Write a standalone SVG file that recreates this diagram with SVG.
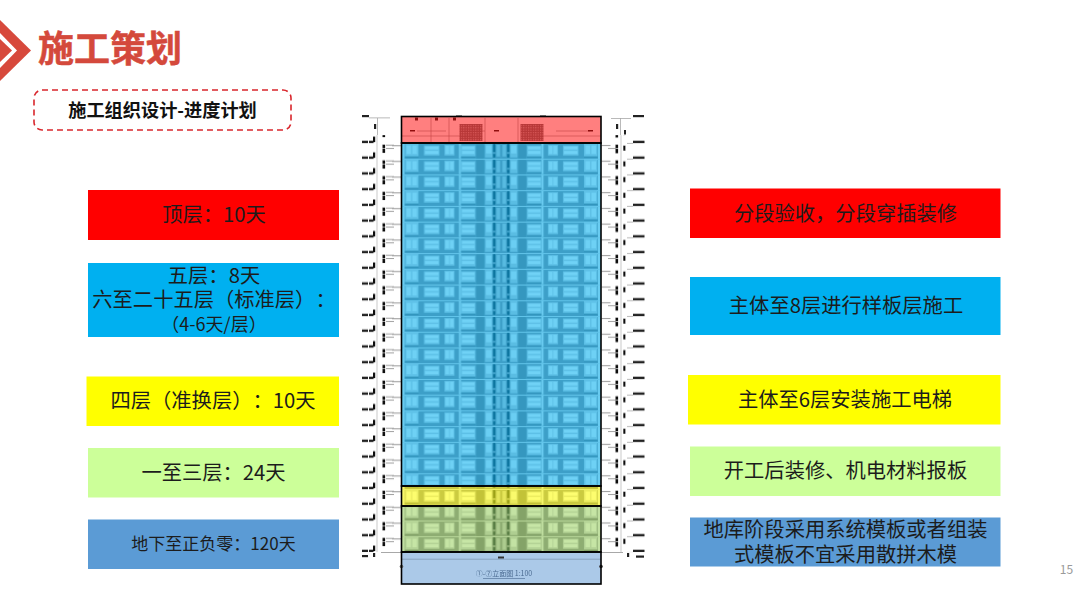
<svg xmlns="http://www.w3.org/2000/svg" xmlns:xlink="http://www.w3.org/1999/xlink" width="1080" height="608" viewBox="0 0 1080 608">
<style>
text{font-family:"Noto Sans CJK SC","Noto Sans",sans-serif;text-anchor:middle;fill:#1c1c1c;font-feature-settings:"chws" 0,"palt" 0;text-spacing-trim:space-all}
.t20{font-size:20.3px}
.frame{fill:none;stroke:#000;stroke-width:1.6}
.tick{fill:#a8a8a8}
.blk{fill:#222}
</style>
<defs>
<filter id="soft" x="-5%" y="-5%" width="110%" height="110%"><feGaussianBlur stdDeviation="0.4"/></filter>
<g id="half">
<rect x="0" y="0" width="3" height="15.73" fill="#f0f0f2"/>
<rect x="3.5" y="1" width="13.5" height="12.5" fill="#d4d4da"/>
<rect x="5" y="2.5" width="4.5" height="8.5" fill="#fafafa"/>
<rect x="11" y="2.5" width="4.5" height="8.5" fill="#fafafa"/>
<rect x="22.5" y="2.5" width="15.5" height="10" fill="#d4d4da"/>
<rect x="23.5" y="3.5" width="13.5" height="3" fill="#fcfcfc"/>
<rect x="23.5" y="8" width="13.5" height="3" fill="#fcfcfc"/>
<rect x="43" y="2" width="10" height="10.5" fill="#d4d4da"/>
<rect x="44" y="3" width="3.6" height="8" fill="#fafafa"/>
<rect x="48.5" y="3" width="3.6" height="8" fill="#fafafa"/>
<rect x="57.5" y="0.5" width="2" height="15" fill="#f0f0f2"/>
<rect x="59.5" y="2.5" width="14.5" height="11" fill="#d4d4da"/>
<rect x="60.5" y="3.5" width="12.5" height="3" fill="#fcfcfc"/>
<rect x="60.5" y="8" width="12.5" height="3" fill="#fcfcfc"/>
<rect x="75" y="0" width="7.5" height="15.73" fill="#77777f"/>
<rect x="83.5" y="1" width="7.5" height="13.5" fill="#ccccd2"/>
<rect x="84.5" y="2.5" width="5.5" height="8" fill="#f4f4f6"/>
<rect x="91.5" y="1" width="2.4" height="8" fill="#1f2a38"/>
<rect x="91.5" y="11" width="2.4" height="3.5" fill="#1f2a38"/>
<rect x="95" y="2" width="3.5" height="11.5" fill="#c8c8ce"/>
<rect x="0" y="0" width="100" height="1" fill="#e0e0e4"/>
<rect x="3.5" y="13.5" width="13.500" height="1.2" fill="#70707a"/>
<rect x="59.5" y="13.5" width="14.5" height="1.2" fill="#70707a"/>
</g>
<pattern id="floors" patternUnits="userSpaceOnUse" x="401.5" y="143" width="199.5" height="15.73">
<rect width="199.5" height="15.73" fill="#8a8a95"/>
<use xlink:href="#half" href="#half"/>
<use xlink:href="#half" href="#half" transform="matrix(-1 0 0 1 199.5 0)"/>
</pattern>
<pattern id="dimL" patternUnits="userSpaceOnUse" x="360" y="135.14" width="42" height="15.73">
<rect x="2" y="5.6" width="6" height="2.4" fill="#222"/>
<rect x="9" y="5.6" width="4.5" height="2.4" fill="#222"/>
<rect x="13" y="1.5" width="2.2" height="5.5" fill="#111"/>
<rect x="22.5" y="9.5" width="2.6" height="3.4" fill="#111"/>
<rect x="22.5" y="13.5" width="2.6" height="2.2" fill="#111"/>
<rect x="22.5" y="0" width="2.6" height="2" fill="#111"/>
<rect x="16.6" y="0" width="0.8" height="15.73" fill="#bcbcbc"/>
<rect x="26" y="9.6" width="8" height="0.8" fill="#888"/>
<rect x="26" y="13" width="8" height="0.8" fill="#888"/>
<rect x="32" y="10" width="9.5" height="1.1" fill="#a0a0a0"/>
</pattern>
<pattern id="dimR" patternUnits="userSpaceOnUse" x="601" y="135.14" width="44" height="15.73">
<rect x="0.5" y="9.8" width="9" height="1.1" fill="#a0a0a0"/>
<rect x="14.5" y="9.5" width="2.6" height="3.6" fill="#111"/>
<rect x="14.5" y="13.8" width="2.6" height="1.93" fill="#111"/>
<rect x="14.5" y="0" width="2.6" height="2.4" fill="#111"/>
<rect x="7" y="13" width="8" height="0.8" fill="#888"/>
<rect x="22.3" y="10.5" width="2.1" height="5" fill="#111"/>
<rect x="19.6" y="0" width="0.8" height="15.73" fill="#bcbcbc"/>
<rect x="32" y="5.6" width="11.5" height="2.4" fill="#222"/>
<rect x="26" y="7.8" width="6" height="0.7" fill="#999"/>
</pattern>
<pattern id="grid" patternUnits="userSpaceOnUse" width="2.4" height="2.4">
<rect width="2.4" height="2.4" fill="#6e6e6e"/>
<rect width="1.2" height="1.2" fill="#b4b4b4"/>
</pattern>
</defs>
<rect width="1080" height="608" fill="#fff"/>

<g id="header">
<polygon points="0,20 31,50.5 0,81" fill="#d7493c"/>
<polygon points="0,33 17,50.5 0,68" fill="#fff"/>
<polygon points="0,39 12,50.5 0,62" fill="#d7493c"/>
<text x="110" y="61.5" style="font-size:36px;font-weight:700;fill:#d4493c;stroke:#d4493c;stroke-width:.5">施工策划</text>
</g>
<g id="subtitle">
<rect x="34" y="90" width="257" height="40" rx="8" fill="#fff" stroke="#d9262c" stroke-width="1.6" stroke-dasharray="6 4"/>
<text x="162.500" y="117" style="font-size:18.2px;font-weight:700;fill:#111">施工组织设计-进度计划</text>
</g>

<g id="left-top"><rect x="88" y="190" width="251" height="50" fill="#f00"/><text class="t20" x="214" y="222">顶层：10天</text></g>
<g id="left-standard"><rect x="88" y="263" width="251" height="74" fill="#00b0f0"/>
<text class="t20" x="214" y="283">五层：8天</text>
<text class="t20" x="214" y="307">六至二十五层（标准层）：</text>
<text x="214" y="331" style="font-size:18px">（4-6天/层）</text></g>
<g id="left-transfer"><rect x="86.5" y="376.5" width="252.5" height="49.5" fill="#ff0"/><text class="t20" x="213" y="408">四层（准换层）：10天</text></g>
<g id="left-lower"><rect x="88" y="448" width="251" height="49.5" fill="#ccff99"/><text class="t20" x="213.500" y="480">一至三层：24天</text></g>
<g id="left-basement"><rect x="88" y="519.5" width="251" height="49.5" fill="#5b9bd5"/><text x="213.500" y="550" style="font-size:17px">地下至正负零：120天</text></g>

<g id="building">
<g filter="url(#soft)">
<rect x="360" y="135.14" width="42" height="417" fill="url(#dimL)"/>
<rect x="601" y="135.14" width="44" height="417" fill="url(#dimR)"/>
<rect class="blk" x="362" y="115" width="7" height="2.2"/>
<rect class="tick" x="369" y="117.5" width="21" height="0.8"/>
<rect class="blk" x="374" y="124" width="2.200" height="5"/>
<rect class="tick" x="377" y="118" width="0.8" height="17"/>
<rect class="blk" x="633" y="115" width="11" height="2.2"/>
<rect class="tick" x="611" y="118" width="20" height="0.8"/>
<rect class="blk" x="616" y="124" width="2.2" height="5"/>
<rect class="blk" x="624" y="130" width="2" height="4.5"/>
<rect class="tick" x="620" y="118" width="0.8" height="17"/>
<rect class="tick" x="381" y="552" width="21" height="1"/>
<rect class="tick" x="601" y="552" width="22" height="1"/>
<rect class="blk" x="362" y="555" width="6" height="2.2"/>
<rect class="blk" x="373" y="553" width="2.2" height="4"/>
<rect class="blk" x="627" y="553" width="2.2" height="4"/>
<rect class="blk" x="636" y="555.500" width="8" height="2.2"/>

<rect x="401.5" y="143" width="199.5" height="409" fill="url(#floors)"/>
<rect x="401.5" y="116.5" width="199.5" height="26.5" fill="#fff"/>
<path d="M431 118V142M449 118V142M485 118V142M518 118V142M401.5 136H460M543 136H601M417 131H446M470 131H485M556 131H590" stroke="#999" stroke-width=".7" fill="none"/>
<rect x="459.500" y="124" width="23" height="17" fill="url(#grid)"/>
<rect x="520.500" y="124" width="23" height="17" fill="url(#grid)"/>
<path d="M415 117.5h3v3h-3zM435 117.5h3v3h-3zM453 117.5h3v3h-3zM456 115.5h6v1.5h-6zM540 115.5h6v1.500h-6zM410 130h5v1.500h-5zM494 130h5v1.500h-5zM588 130h5v1.500h-5z" fill="#222"/>

<rect x="401.5" y="116.5" width="199.5" height="26.5" fill="#ff0000" fill-opacity=".5"/>
<rect x="401.5" y="143" width="199.5" height="343" fill="#00b0f0" fill-opacity=".56"/>
<rect x="401.5" y="486" width="199.5" height="20" fill="#ffff00" fill-opacity=".56"/>
<rect x="401.5" y="506" width="199.5" height="46" fill="#92d050" fill-opacity=".5"/>
<rect x="401.5" y="552" width="199.5" height="32" fill="#abc9e8"/>
<rect x="401.5" y="558.8" width="199.5" height=".7" fill="#7a93ad"/>
<rect x="498" y="556.5" width="6" height="2" fill="#333"/>
<circle cx="401.5" cy="566.5" r="1.8" fill="#666"/>
<circle cx="601" cy="566.5" r="1.8" fill="#333"/>
<text x="504" y="576" style="font-size:7px;fill:#4a6a90">①-⑦立面图 1:100</text>
<rect x="483" y="578" width="42" height=".6" fill="#4a6a90"/>
</g>
<rect class="frame" x="401.5" y="116.5" width="199.5" height="26.5"/>
<rect class="frame" x="401.5" y="143" width="199.5" height="343"/>
<rect class="frame" x="401.5" y="486" width="199.5" height="20"/>
<rect class="frame" x="401.5" y="506" width="199.5" height="46"/>
<rect class="frame" x="401.5" y="552" width="199.5" height="32"/>
</g>

<g id="right-top"><rect x="690" y="188.5" width="310.5" height="49.5" fill="#f00"/><text class="t20" x="845.500" y="220.500">分段验收，分段穿插装修</text></g>
<g id="right-standard"><rect x="690" y="277" width="310.5" height="58" fill="#00b0f0"/><text class="t20" x="846" y="313">主体至8层进行样板层施工</text></g>
<g id="right-transfer"><rect x="688" y="375" width="312.5" height="49.5" fill="#ff0"/><text class="t20" x="845" y="406.500">主体至6层安装施工电梯</text></g>
<g id="right-lower"><rect x="690" y="446.500" width="310.5" height="49.5" fill="#ccff99"/><text class="t20" x="845.500" y="478">开工后装修、机电材料报板</text></g>
<g id="right-basement"><rect x="690" y="517.5" width="310.5" height="49" fill="#5b9bd5"/>
<text class="t20" x="845.5" y="537">地库阶段采用系统模板或者组装</text>
<text class="t20" x="845.5" y="561.500">式模板不宜采用散拼木模</text></g>
<text x="1066.500" y="574" style="font-size:12px;fill:#9a9a9a">15</text>
</svg>
